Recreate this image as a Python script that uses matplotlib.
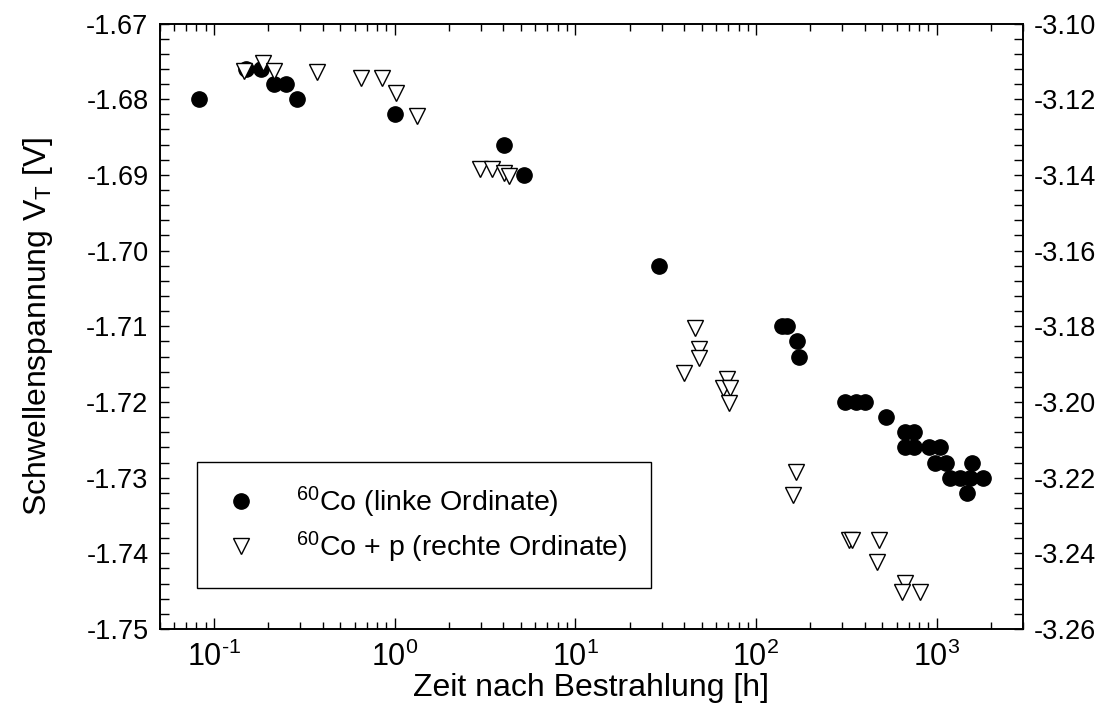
import matplotlib
matplotlib.use("Agg")
import matplotlib.pyplot as plt
from matplotlib.ticker import MultipleLocator, LogLocator, NullFormatter, FuncFormatter
import numpy as np

plt.rcParams["font.family"] = ["Liberation Sans", "DejaVu Sans"]
plt.rcParams["mathtext.fontset"] = "custom"
plt.rcParams["mathtext.rm"] = "Liberation Sans"
plt.rcParams["mathtext.it"] = "Liberation Sans:italic"
plt.rcParams["mathtext.bf"] = "Liberation Sans:bold"
plt.rcParams["axes.unicode_minus"] = False

# 60Co, left ordinate
co_time = [0.083, 0.150, 0.182, 0.216, 0.250, 0.290, 1.01, 4.02, 5.18, 29.1,
           139, 148, 169, 172, 310, 358, 400, 527, 665, 747,
           665, 747, 907, 1048, 975, 1132, 1575, 1180, 1340, 1521,
           1803, 1470]
co_vt = [-1.680, -1.676, -1.676, -1.678, -1.678, -1.680, -1.682, -1.686, -1.690, -1.702,
         -1.710, -1.710, -1.712, -1.714, -1.720, -1.720, -1.720, -1.722, -1.724, -1.724,
         -1.726, -1.726, -1.726, -1.726, -1.728, -1.728, -1.728, -1.730, -1.730, -1.730,
         -1.730, -1.732]

# 60Co + p, right ordinate
cop_time = [0.146, 0.186, 0.216, 0.374, 0.649, 0.848, 1.016, 1.335,
            2.95, 3.47, 4.02, 4.32,
            46.0, 48.4, 48.4, 40.0, 68.9, 65.5, 71.8, 71.2,
            166, 160, 328, 340, 480, 468, 665, 643, 805]
cop_vt = [-3.1125, -3.1105, -3.1125, -3.1127, -3.1145, -3.1145, -3.1184, -3.1244,
          -3.1385, -3.1385, -3.1396, -3.1402,
          -3.1805, -3.1861, -3.1885, -3.1924, -3.1940, -3.1964, -3.1964, -3.2003,
          -3.2184, -3.2246, -3.2365, -3.2365, -3.2365, -3.2424, -3.2479, -3.2503, -3.2503]

left_ticks = [-1.67, -1.68, -1.69, -1.70, -1.71, -1.72, -1.73, -1.74, -1.75]
right_ticks = [-3.10, -3.12, -3.14, -3.16, -3.18, -3.20, -3.22, -3.24, -3.26]


def decade_label(val, pos):
    # plain hyphen in the exponent, like the original
    e = int(round(np.log10(val)))
    sign = "\u2010" if e < 0 else ""
    return "10$^{%s%d}$" % (sign, abs(e))


fig = plt.figure(figsize=(11.07, 7.24), dpi=100)
ax = fig.add_axes([0.1441, 0.1312, 0.78, 0.8363])
ax2 = ax.twinx()

h1, = ax.plot(co_time, co_vt, "o", color="black", markersize=11, linestyle="none",
              label=r"$^{60}$Co (linke Ordinate)")
h2, = ax2.plot(cop_time, cop_vt, "v", markerfacecolor="white", markeredgecolor="black",
               markeredgewidth=1.0, markersize=11, linestyle="none",
               label=r"$^{60}$Co + p (rechte Ordinate)")

ax.set_xscale("log")
ax.set_xlim(0.05, 3000)
ax.set_ylim(-1.75, -1.67)
ax2.set_ylim(-3.26, -3.10)

ax.set_yticks(left_ticks)
ax.set_yticklabels([f"{v:.2f}" for v in left_ticks])
ax.yaxis.set_minor_locator(MultipleLocator(0.002))
ax2.set_yticks(right_ticks)
ax2.set_yticklabels([f"{v:.2f}" for v in right_ticks])
ax2.yaxis.set_minor_locator(MultipleLocator(0.004))

ax.xaxis.set_major_locator(LogLocator(base=10, numticks=10))
ax.xaxis.set_major_formatter(FuncFormatter(decade_label))
ax.xaxis.set_minor_locator(LogLocator(base=10, subs=range(2, 10), numticks=20))
ax.xaxis.set_minor_formatter(NullFormatter())

ax.tick_params(axis="x", which="both", direction="in", top=True, labelsize=22, pad=9)
ax.tick_params(axis="x", which="major", length=8, width=1)
ax.tick_params(axis="x", which="minor", length=5, width=1)
ax.tick_params(axis="y", which="both", direction="in", length=6.5, width=1, labelsize=19.5, pad=8)
ax2.tick_params(axis="y", which="both", direction="in", length=6.5, width=1, labelsize=19.5, pad=8)

for a in (ax, ax2):
    for s in a.spines.values():
        s.set_linewidth(1.2)

ax.set_xlabel("Zeit nach Bestrahlung [h]", fontsize=23, labelpad=0)
ax.set_ylabel(r"Schwellenspannung V$_\mathregular{T}$ [V]", fontsize=23, labelpad=22)

leg = ax2.legend(handles=[h1, h2], loc="lower left", bbox_to_anchor=(0.043, 0.068),
                 fontsize=20.5, frameon=True, fancybox=False, framealpha=1,
                 edgecolor="black", handlelength=1.5, handletextpad=1.2,
                 borderpad=0.8, labelspacing=0.35, borderaxespad=0)
leg.get_frame().set_linewidth(1.0)

fig.savefig("out.png", dpi=100)
